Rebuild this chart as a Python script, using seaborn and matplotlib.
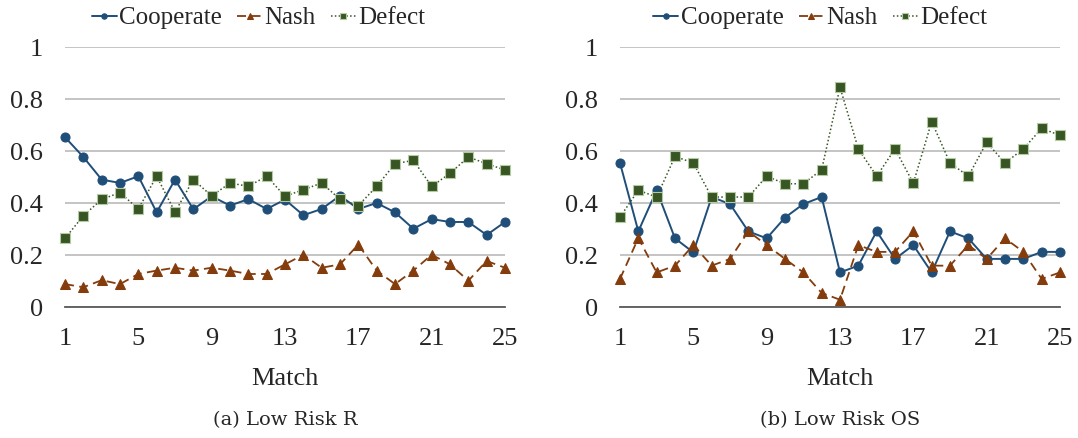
import matplotlib
matplotlib.use("Agg")
import matplotlib.pyplot as plt
import seaborn as sns
import pandas as pd

matches = list(range(1, 26))
tick_labels = ["1", "5", "9", "13", "17", "21", "25"]
series_names = ["Cooperate", "Nash", "Defect"]

# (a) Low Risk R
r_cooperate = [0.653, 0.577, 0.490, 0.477, 0.503, 0.364, 0.490, 0.376, 0.426, 0.390,
               0.415, 0.377, 0.413, 0.353, 0.377, 0.428, 0.377, 0.400, 0.364, 0.301,
               0.338, 0.327, 0.327, 0.277, 0.327]
r_nash = [0.088, 0.076, 0.103, 0.088, 0.127, 0.140, 0.151, 0.140, 0.151, 0.140,
          0.127, 0.127, 0.164, 0.201, 0.151, 0.164, 0.240, 0.140, 0.088, 0.140,
          0.201, 0.164, 0.101, 0.177, 0.151]
r_defect = [0.264, 0.351, 0.414, 0.440, 0.377, 0.503, 0.365, 0.490, 0.427, 0.477,
            0.464, 0.503, 0.426, 0.451, 0.477, 0.414, 0.390, 0.464, 0.551, 0.564,
            0.464, 0.514, 0.577, 0.551, 0.527]

# (b) Low Risk OS
os_cooperate = [0.554, 0.291, 0.449, 0.264, 0.210, 0.423, 0.396, 0.291, 0.264, 0.344,
                0.396, 0.423, 0.133, 0.159, 0.291, 0.185, 0.238, 0.133, 0.291, 0.264,
                0.185, 0.185, 0.185, 0.212, 0.212]
os_nash = [0.108, 0.265, 0.133, 0.159, 0.238, 0.159, 0.185, 0.291, 0.238, 0.185,
           0.133, 0.054, 0.028, 0.238, 0.212, 0.212, 0.291, 0.159, 0.159, 0.238,
           0.185, 0.264, 0.212, 0.108, 0.133]
os_defect = [0.346, 0.449, 0.423, 0.579, 0.554, 0.423, 0.423, 0.423, 0.503, 0.474,
             0.474, 0.528, 0.845, 0.608, 0.503, 0.608, 0.476, 0.713, 0.554, 0.503,
             0.633, 0.554, 0.608, 0.687, 0.660]

sns.set_style("white")
plt.rcParams["font.family"] = ["Liberation Serif", "DejaVu Serif"]

styles = {
    "Cooperate": dict(color="#1F4E79", marker="o", linestyle="-", lw=1.4,
                      markersize=6.5, mec="#1F4E79"),
    "Nash": dict(color="#843C0C", marker="^", linestyle=(0, (5, 3)), lw=1.3,
                 markersize=7, mec="#843C0C"),
    "Defect": dict(color="#375623", marker="s", linestyle=(0, (1, 1.5)), lw=1.1,
                   markersize=6.5, mec="#B5C9A4", mew=0.8),
}


def draw_panel(ax, coop, nash, defect, caption, legend_x):
    df = pd.DataFrame({
        "Match": matches * 3,
        "value": coop + nash + defect,
        "series": [s for s in series_names for _ in matches],
    })
    for name in series_names:
        sub = df[df["series"] == name]
        sns.lineplot(data=sub, x="Match", y="value", ax=ax, label=name,
                     clip_on=False, zorder=3, **styles[name])

    ax.set_xlim(1, 25)
    ax.set_ylim(0, 1)
    ax.set_yticks([0, 0.2, 0.4, 0.6, 0.8, 1])
    ax.set_yticklabels(["0", "0.2", "0.4", "0.6", "0.8", "1"])
    ax.set_xticks(matches, minor=True)
    ax.set_xticks([1, 5, 9, 13, 17, 21, 25])
    ax.set_xticklabels(tick_labels)
    ax.tick_params(axis="x", which="both", direction="in", length=7,
                   color="#BFBFBF", width=1, pad=15, labelsize=19)
    ax.tick_params(axis="y", length=0, pad=16, labelsize=19)
    ax.grid(axis="y", color="#BFBFBF", lw=1.3)
    ax.set_axisbelow(True)
    for side in ["left", "right", "top"]:
        ax.spines[side].set_visible(False)
    ax.spines["bottom"].set_color("#595959")
    ax.spines["bottom"].set_linewidth(1.3)
    ax.spines["bottom"].set_zorder(4)
    ax.set_xlabel("Match", fontsize=19, labelpad=13)
    ax.set_ylabel("")
    ax.legend(loc="lower center", bbox_to_anchor=(legend_x, 1.02), ncol=3,
              frameon=False, fontsize=18, handlelength=1.0, handletextpad=0.1,
              columnspacing=0.6, borderpad=0, markerscale=0.6)
    ax.text(0.5, -0.435, caption, transform=ax.transAxes, ha="center",
            va="center", fontsize=14, family=["DejaVu Serif"])


fig = plt.figure(figsize=(10.78, 4.38), dpi=100)
ax1 = fig.add_axes([65 / 1078, 131 / 438, 440 / 1078, 260 / 438])
ax2 = fig.add_axes([620 / 1078, 131 / 438, 440 / 1078, 260 / 438])

draw_panel(ax1, r_cooperate, r_nash, r_defect, "(a) Low Risk R", 0.44)
draw_panel(ax2, os_cooperate, os_nash, os_defect, "(b) Low Risk OS", 0.455)

fig.savefig("out.png", dpi=100)
plt.close(fig)
